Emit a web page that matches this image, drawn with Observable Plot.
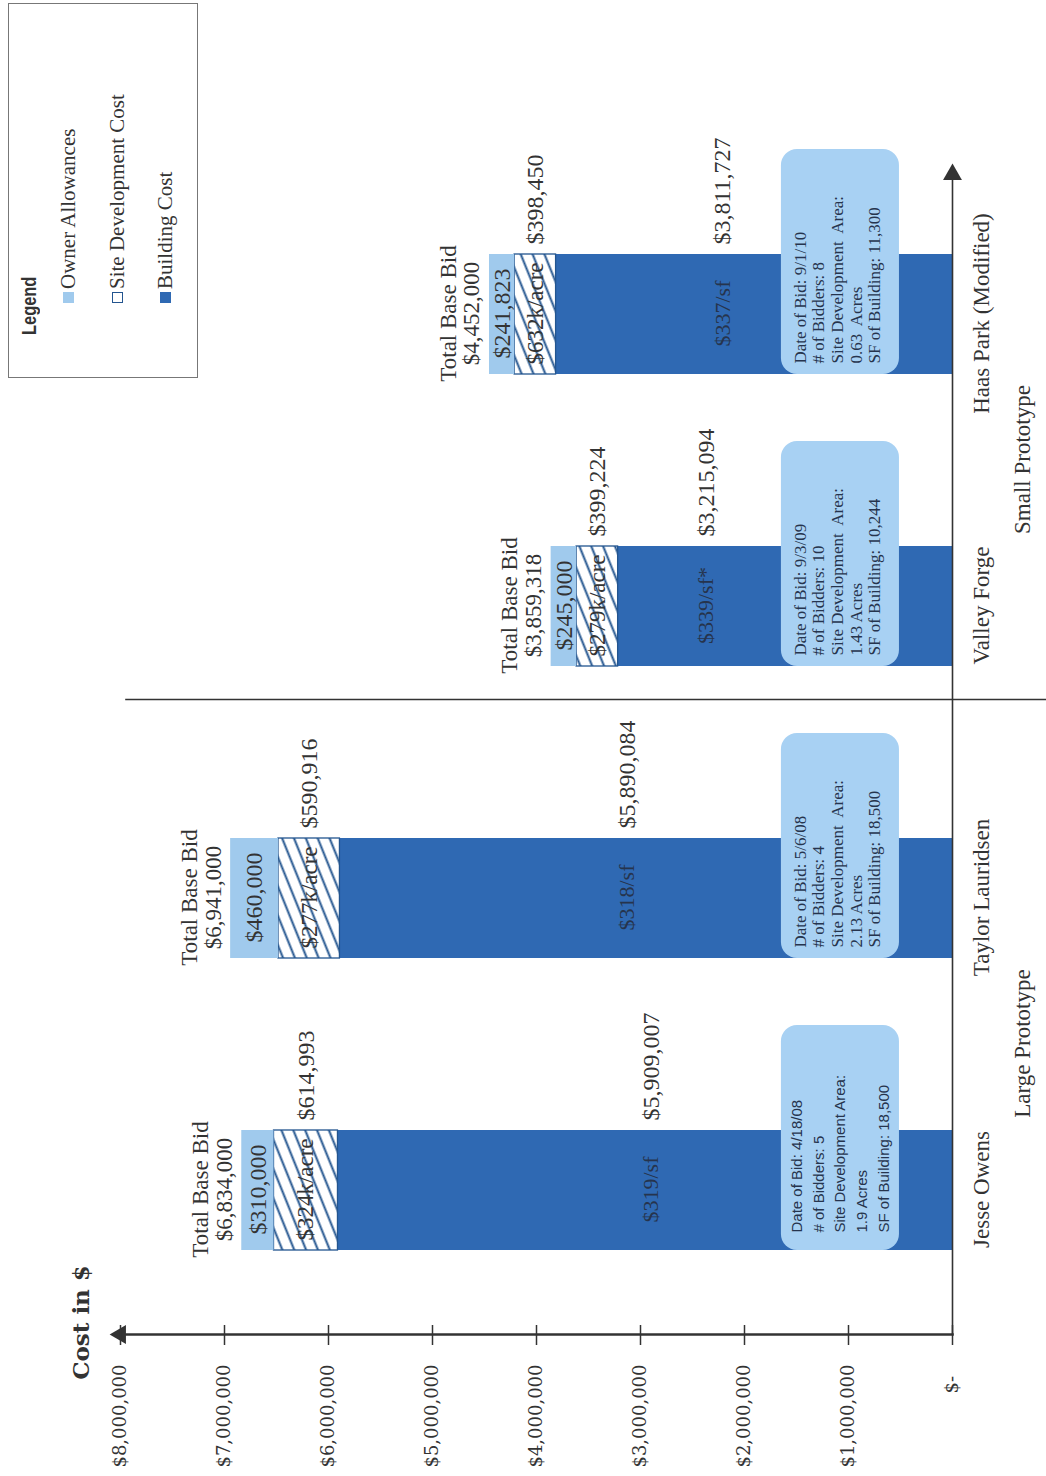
<!DOCTYPE html>
<html><head><meta charset="utf-8">
<script src="https://cdn.jsdelivr.net/npm/d3@7"></script>
<script src="https://cdn.jsdelivr.net/npm/@observablehq/plot@0.6"></script>
<style>
html,body{margin:0;padding:0;background:#fff;}
#stage{position:relative;width:1046px;height:1476px;overflow:hidden;background:#fff;}
#rot{position:absolute;left:0;top:0;width:1476px;height:1046px;transform-origin:0 0;transform:translate(0px,1476px) rotate(-90deg);}
#rot svg{position:absolute;left:0;top:0;}
#legend{position:absolute;left:1098px;top:8px;width:375px;height:190px;border:1px solid #777;box-sizing:border-box;font-family:"Liberation Serif";color:#333;background:#fff;}
#legend .t{position:absolute;left:42px;top:9px;font:bold 20px "Liberation Sans";color:#333;transform:scaleX(0.82);transform-origin:0 50%;}
#legend .it{position:absolute;left:74px;height:24px;line-height:24px;font-size:21px;white-space:nowrap;display:flex;align-items:center;}
#legend .sw{display:inline-block;width:11px;height:11px;margin-right:3px;box-sizing:border-box;}
</style></head><body>
<div id="stage"><div id="rot">
<div id="legend">
  <div class="t">Legend</div>
  <div class="it" style="top:47px"><span class="sw" style="background:#a0caed"></span>Owner Allowances</div>
  <div class="it" style="top:96px"><span class="sw" style="background:#fff;border:1.5px solid #23558f"></span>Site Development Cost</div>
  <div class="it" style="top:144px"><span class="sw" style="background:#2f69b3"></span>Building Cost</div>
</div>
</div></div>
<script>
// ---- data ----
const projects = ["Jesse Owens", "Taylor Lauridsen", "Valley Forge", "Haas Park (Modified)"];
const groupLabels = ["Large Prototype", "Small Prototype"];
const groupFirstProject = ["Jesse Owens", "Valley Forge"];
const buildingCost = [5909007, 5890084, 3215094, 3811727];
const siteCost = [614993, 590916, 399224, 398450];
const ownerAllowances = [310000, 460000, 245000, 241823];
const totalBaseBid = [6834000, 6941000, 3859318, 4452000];
const costPerSf = ["$319/sf", "$318/sf", "$339/sf*", "$337/sf"];
const costPerAcre = ["$324k/acre", "$277k/acre", "$279k/acre", "$632k/acre"];
const bidDates = ["4/18/08", "5/6/08", "9/3/09", "9/1/10"];
const bidderCounts = ["5", "4", "10", "8"];
const siteAcres = ["1.9 Acres", "2.13 Acres", "1.43 Acres", "0.63\u00a0 Acres"];
const buildingSf = ["18,500", "18,500", "10,244", "11,300"];
const perSfLabelAt = [2900000, 3130000, 2370000, 2210000];
const yTicks = [0, 1000000, 2000000, 3000000, 4000000, 5000000, 6000000, 7000000, 8000000];

// ---- styling constants ----
const C = {building: "#2f69b3", owner: "#a0caed", box: "#a8d1f3", hatch: "#23558f", ink: "#333", inkDark: "#26344d"};
const boxTop = 1645000, boxBottom = 510000;
const bandW = 120, stepPx = 292;

const fmt = d3.format(",");
const money = v => "$" + fmt(v);
const idx = d3.range(projects.length);
const P = i => projects[i];
const infoLines = i => [
  "Date of Bid: " + bidDates[i],
  "# of Bidders: " + bidderCounts[i],
  i === 0 ? "Site Development Area:" : "Site Development\u00a0 Area:",
  siteAcres[i],
  "SF of Building: " + buildingSf[i]
].join("\n");

const plot = Plot.plot({
  width: 1476, height: 1046,
  marginLeft: 141, marginRight: 175, marginTop: 120, marginBottom: 94,
  style: {fontFamily: "Liberation Serif", fontSize: "21px", color: C.ink, background: "none", overflow: "visible"},
  x: {domain: projects, range: [140, 1308], paddingInner: 0.589, paddingOuter: 0.2945, align: 0.5},
  y: {domain: [0, 8000000], range: [952, 120]},
  marks: [
    // stacked bars
    Plot.barY(idx, {x: P, y1: () => 0, y2: i => buildingCost[i], fill: C.building}),
    Plot.barY(idx, {x: P, y1: i => buildingCost[i], y2: i => buildingCost[i] + siteCost[i], fill: "url(#hatch)", stroke: C.hatch, strokeWidth: 1.3}),
    Plot.barY(idx, {x: P, y1: i => buildingCost[i] + siteCost[i], y2: i => totalBaseBid[i], fill: C.owner}),
    // info boxes
    Plot.barY(idx, {x: P, y1: () => boxBottom, y2: () => boxTop, insetRight: -(225 - bandW), rx: 16, fill: C.box}),
    Plot.text(idx.filter(i => i === 0), {x: P, y: () => boxTop, text: infoLines, textAnchor: "start", lineAnchor: "top", dx: -bandW / 2 + 17, dy: 5, lineHeight: 1.45, fontSize: 15, fontFamily: "Liberation Sans", fill: C.inkDark}),
    Plot.text(idx.filter(i => i > 0), {x: P, y: () => boxTop, text: infoLines, textAnchor: "start", lineAnchor: "top", dx: -bandW / 2 + 10, dy: 11, lineHeight: 1.1, fontSize: 17, fill: C.inkDark}),
    // labels inside bars
    Plot.text(idx, {x: P, y: i => buildingCost[i] + siteCost[i] + ownerAllowances[i] / 2, text: i => money(ownerAllowances[i]), fontSize: 24, fill: C.ink}),
    Plot.text(idx, {x: P, y: i => buildingCost[i] + siteCost[i] / 2, text: i => costPerAcre[i], fontSize: 23, fill: C.ink}),
    Plot.text(idx, {x: P, y: i => perSfLabelAt[i], text: i => costPerSf[i], fontSize: 22, fill: C.inkDark}),
    // labels beside bars
    Plot.text(idx, {x: P, y: i => buildingCost[i] + siteCost[i] / 2, text: i => money(siteCost[i]), textAnchor: "start", dx: bandW / 2 + 9, fontSize: 24, fill: C.ink}),
    Plot.text(idx, {x: P, y: i => perSfLabelAt[i], text: i => money(buildingCost[i]), textAnchor: "start", dx: bandW / 2 + 9, fontSize: 24, fill: C.ink}),
    // totals
    Plot.text(idx, {x: P, y: i => totalBaseBid[i], text: i => "Total Base Bid\n" + money(totalBaseBid[i]), lineAnchor: "bottom", dy: -10, lineHeight: 1.04, fontSize: 23, fill: C.ink}),
    // divider between prototypes
    Plot.ruleX(["Valley Forge"], {x: d => d, dx: -94, y1: () => 7950000, y2: () => -904000, stroke: "#333", strokeWidth: 1.5}),
    // axes
    Plot.frame({anchor: "left", stroke: "#333", strokeWidth: 2.5}),
    Plot.frame({anchor: "bottom", stroke: "#333", strokeWidth: 1.6}),
    Plot.dot([0], {y: () => 8000000, frameAnchor: "left", symbol: "triangle", r: 7, fill: "#333", stroke: "none"}),
    Plot.dot([0], {y: () => 0, frameAnchor: "right", symbol: "triangle", rotate: 90, r: 7, fill: "#333", stroke: "none"}),
    Plot.axisY({ticks: yTicks, tickSize: 20, dx: 10, tickFormat: () => "", stroke: "#333", strokeWidth: 1.5}),
    Plot.axisY({ticks: yTicks, tickSize: 0, tickPadding: 30, tickFormat: d => d === 0 ? "$-\u00a0\u00a0" : money(d), fontSize: 18, fontFamily: "DejaVu Serif", fill: C.ink}),
    Plot.axisX({tickSize: 0, tickPadding: 20, fontSize: 23, fill: C.ink}),
    Plot.text(groupLabels, {x: (d, i) => groupFirstProject[i], y: () => 0, dx: stepPx / 2, dy: 70, text: d => d, fontSize: 23, fill: C.ink}),
    Plot.text(["Cost in $"], {y: () => 8000000, frameAnchor: "left", textAnchor: "middle", dx: 12, dy: -39, text: d => d, fontSize: 23, fontWeight: "bold", fontFamily: "DejaVu Serif", fill: C.ink})
  ]
});

// hatch pattern for the site development segments
const ns = "http://www.w3.org/2000/svg";
const defs = document.createElementNS(ns, "defs");
defs.innerHTML = '<pattern id="hatch" patternUnits="userSpaceOnUse" width="11" height="11" patternTransform="rotate(-22)">' +
  '<rect width="11" height="11" fill="#fff"/><line x1="0" y1="5.5" x2="11" y2="5.5" stroke="' + C.hatch + '" stroke-width="2"/></pattern>';
plot.insertBefore(defs, plot.firstChild);

const rot = document.getElementById("rot");
rot.insertBefore(plot, rot.firstChild);
</script>
</body></html>
